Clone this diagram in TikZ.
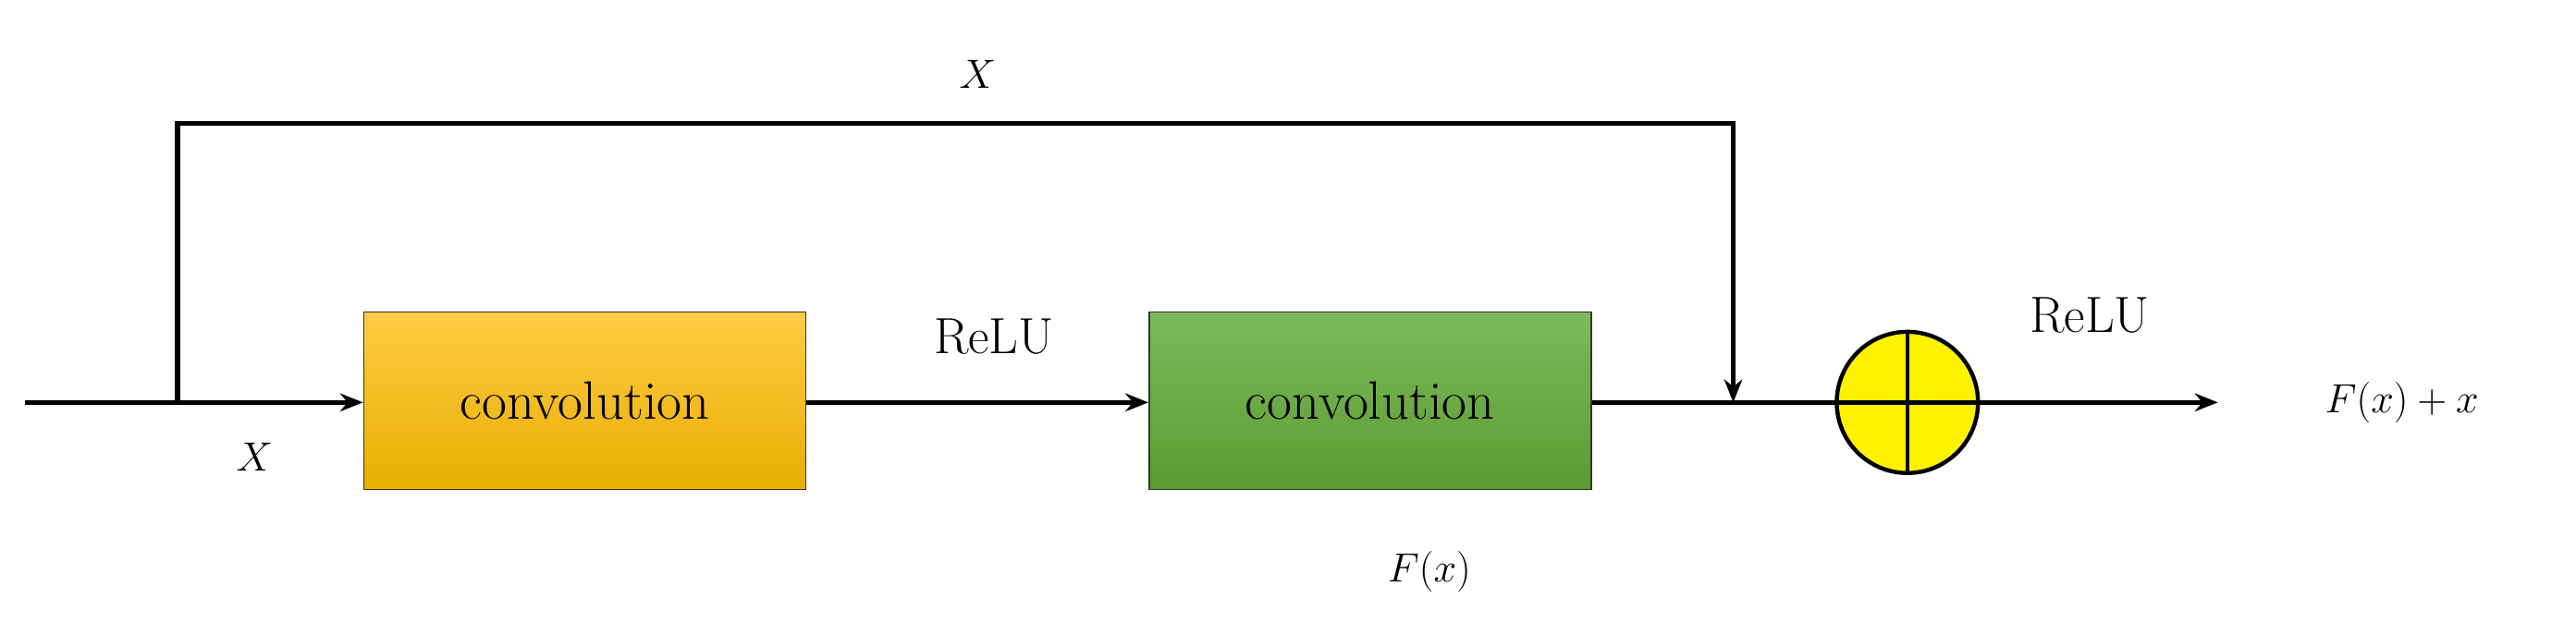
\documentclass[tikz,border=0pt]{standalone}
\usetikzlibrary{arrows.meta}
\definecolor{o1}{HTML}{FFCB45}
\definecolor{o2}{HTML}{E8AE00}
\definecolor{g1}{HTML}{7DBA5C}
\definecolor{g2}{HTML}{5B9B31}
\begin{document}
\begin{tikzpicture}[x=1pt,y=-1pt,
  ln/.style={line width=3pt,-{Stealth[length=14pt,width=11pt]}},
  box/.style={draw=black!80,line width=1pt,minimum width=269pt,minimum height=108pt,font=\fontsize{33}{38}\selectfont},
  lbl/.style={font=\fontsize{31}{36}\selectfont}]
\useasboundingbox (0,0) rectangle (1568,387);
\node[box,top color=o1,bottom color=o2] (c1) at (356,244) {convolution};
\node[box,top color=g1,bottom color=g2] (c2) at (834,244) {convolution};
\node[circle,draw,line width=2.5pt,fill=yellow,minimum size=86pt,inner sep=0pt] (s) at (1161,245) {};
\draw[line width=2.5pt] (s.north) -- (s.south) (s.west) -- (s.east);
\coordinate (in) at (15,245);
\coordinate (sp) at (108,245);
\coordinate (j) at (1055,245);
\coordinate (out) at (1350,245);
\draw[ln] (in) -- (c1.west |- in);
\draw[ln] (c1.east |- in) -- (c2.west |- in);
\draw[line width=3pt] (c2.east |- in) -- (s.west);
\draw[ln] (s.east) -- (out);
\draw[ln] (sp) -- (108,75) -- (1055,75) -- (j);
\node[lbl] (x1) at (595,45) {$X$};
\node[lbl] (x2) at (155,278) {$X$};
\node[lbl] (r1) at (605,205) {ReLU};
\node[lbl] (r2) at (1272,192) {ReLU};
\node[lbl] (f) at (870,348) {$F(x)$};
\node[lbl] (fo) at (1462,245) {$F(x)+x$};
\end{tikzpicture}
\end{document}
